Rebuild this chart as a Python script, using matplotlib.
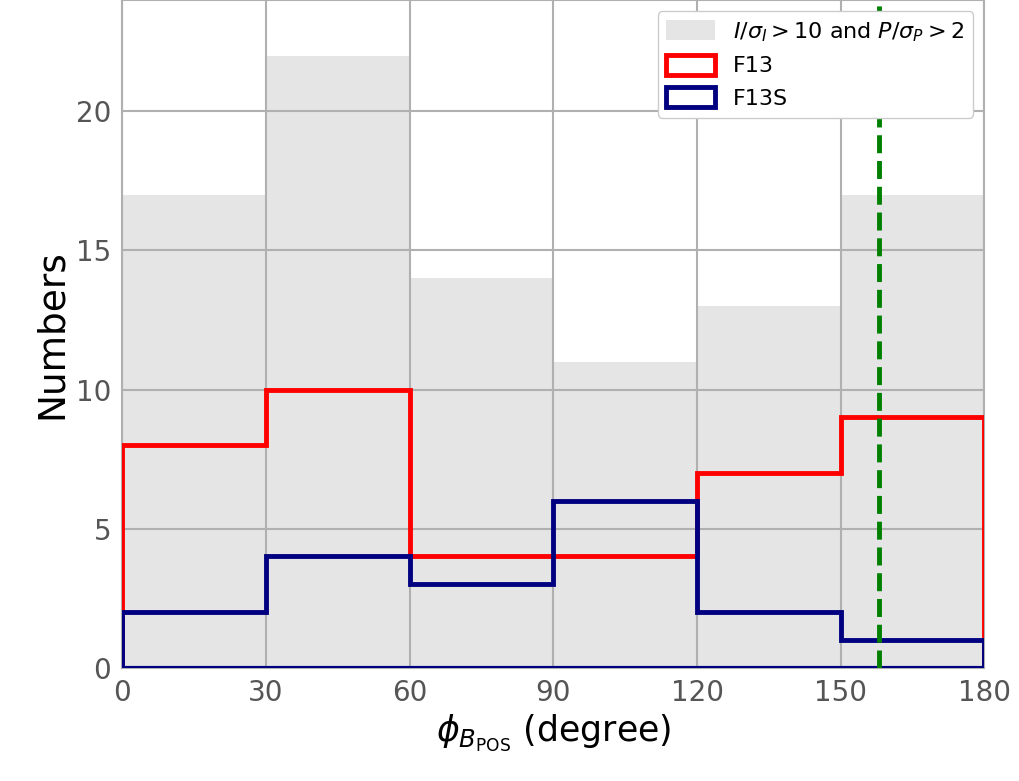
import matplotlib.pyplot as plt
import numpy as np

bins = np.arange(0, 181, 30)
centers = bins[:-1] + 15
all_counts = [17, 22, 14, 11, 13, 17]
f13_counts = [8, 10, 4, 4, 7, 9]
f13s_counts = [2, 4, 3, 6, 2, 1]
mean_angle = 158

fig, ax = plt.subplots(figsize=(10.2, 7.81), dpi=100)
ax.hist(centers, bins=bins, weights=all_counts, color='#e5e5e5',
        label=r'$I/\sigma_I > 10$ and $P/\sigma_P > 2$', zorder=1)
ax.hist(centers, bins=bins, weights=f13_counts, histtype='step',
        color='red', linewidth=3.5, label='F13', zorder=3)
ax.hist(centers, bins=bins, weights=f13s_counts, histtype='step',
        color='navy', linewidth=3.5, label='F13S', zorder=4)
ax.axhline(0, color='navy', linewidth=3, zorder=4)
ax.axvline(mean_angle, color='green', linestyle='--', linewidth=3.5, zorder=5)

ax.set_xlim(0, 180)
ax.set_ylim(0, 24)
ax.set_xticks(bins)
ax.set_yticks([0, 5, 10, 15, 20])
ax.set_axisbelow(False)
ax.grid(color='#b0b0b0', linewidth=1.5, zorder=2)
for s in ax.spines.values():
    s.set_color('#b0b0b0')
    s.set_linewidth(1.5)
ax.tick_params(labelsize=20, colors='#555555', length=0, pad=8)
ax.set_xlabel(r'$\phi_{B_{\rm POS}}$ (degree)', fontsize=25)
ax.set_ylabel('Numbers', fontsize=27)
leg = ax.legend(loc='upper right', fontsize=16, framealpha=1, edgecolor='#cccccc',
                handlelength=2.2, handleheight=1.0)
leg.set_zorder(6)

plt.subplots_adjust(left=0.12, right=0.965, top=1.0, bottom=0.145)
plt.savefig('out.png')
